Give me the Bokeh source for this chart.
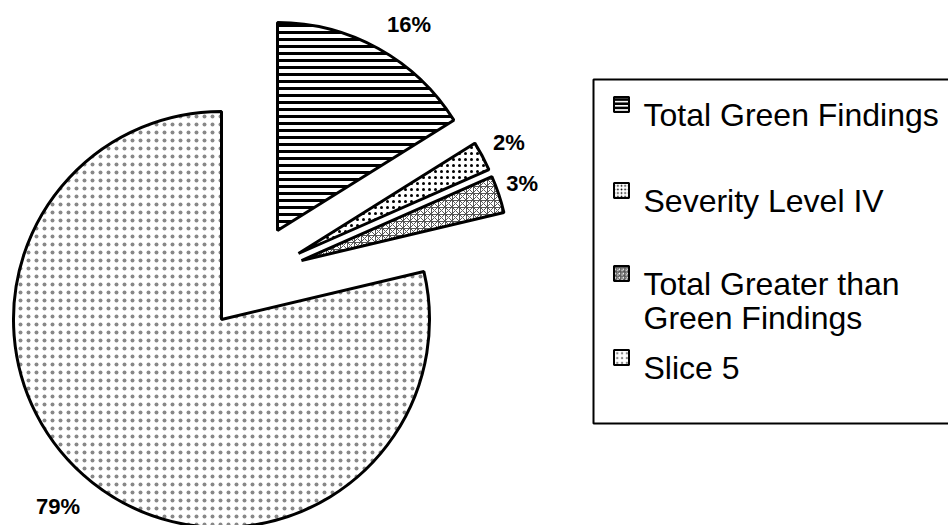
import math
import textwrap
from bokeh.plotting import figure
from bokeh.models import Range1d
from bokeh.core.properties import value
from bokeh.embed import file_html
from bokeh.resources import INLINE

# ---------------- data ----------------
categories = ["Total Green Findings", "Severity Level IV",
              "Total Greater than Green Findings", "Slice 5"]
values = [16.1, 2.3, 2.9, 78.7]
pct_labels = ["16%", "2%", "3%", "79%"]

# ---------------- layout / style ----------------
W, H = 948, 525
FONT = "Liberation Sans"
PIE_CENTER = (221, 319)          # screen px
RADIUS = 208
# explosion offsets (screen px) per slice
EXPLODE = [(56, -89), (77, -66), (80, -59), (0, 0)]
LABEL_GAP = [18, 12, 8, 20]
LABEL_FS = 22
hatches = [
    dict(hatch_pattern="horizontal_line", hatch_color="black", hatch_scale=7, hatch_weight=3),
    dict(hatch_pattern="dot", hatch_color="black", hatch_scale=6, hatch_weight=5),
    dict(hatch_pattern="criss_cross", hatch_color="#555555", hatch_scale=7, hatch_weight=1),
    dict(hatch_pattern="dot", hatch_color="#888888", hatch_scale=8, hatch_weight=1.6),
]


def sy(y):
    return H - y


def text_width(s, fs):
    w = {"%": 0.889}
    return sum(w.get(c, 0.556) for c in s) * fs


p = figure(width=W, height=H, output_backend="svg", toolbar_location=None,
           x_range=Range1d(0, W), y_range=Range1d(0, H),
           x_axis_type=None, y_axis_type=None, min_border=0,
           outline_line_color=None)
p.grid.visible = False
p.background_fill_color = "white"

total = sum(values)
cum = 0.0
lab_x, lab_y = [], []
for i, v in enumerate(values):
    span = v / total * 2 * math.pi
    start = math.pi / 2 - (cum + span)
    end = math.pi / 2 - cum
    cum += span
    cx = PIE_CENTER[0] + EXPLODE[i][0]
    cy = sy(PIE_CENTER[1] + EXPLODE[i][1])
    p.wedge(x=[cx], y=[cy], radius=RADIUS, start_angle=[start], end_angle=[end],
            fill_color="white", line_color="black", line_width=3, **hatches[i])
    mid = (start + end) / 2
    c, s = math.cos(mid), math.sin(mid)
    hw = text_width(pct_labels[i], LABEL_FS) / 2
    hh = 8
    lab_x.append(cx + (RADIUS + LABEL_GAP[i]) * c + hw * (1 if c >= 0 else -1))
    lab_y.append(cy + (RADIUS + LABEL_GAP[i]) * s + hh * (1 if s >= 0 else -1))

p.text(x=lab_x, y=lab_y, text=pct_labels, text_font=value(FONT),
       text_font_size=f"{LABEL_FS}px", text_font_style="bold", text_color="black",
       text_align="center", text_baseline="middle")

# ---------------- legend ----------------
LEG_LEFT, LEG_TOP, LEG_BOTTOM = 593, 79, 423
p.quad(left=[LEG_LEFT], right=[W + 10], top=[sy(LEG_TOP)], bottom=[sy(LEG_BOTTOM)],
       fill_color=None, line_color="black", line_width=2)

ITEM_BASELINES = [114, 200, 283, 367]
LINE_H = 34
ICON_X, ICON_SIZE, TEXT_X = 621, 15, 643
for i, name in enumerate(categories):
    lines = textwrap.wrap(name, 20)
    base = ITEM_BASELINES[i]
    icon_h = {k: (v if k != "hatch_scale" else max(3, v * 0.6)) for k, v in hatches[i].items()}
    if icon_h["hatch_pattern"] == "dot":
        icon_h["hatch_weight"] = min(icon_h["hatch_weight"], 3)
    p.rect(x=[ICON_X], y=[sy(base - 10)], width=ICON_SIZE, height=ICON_SIZE,
           fill_color="white", line_color="black", line_width=2, **icon_h)
    p.text(x=[TEXT_X] * len(lines), y=[sy(base + j * LINE_H) for j in range(len(lines))],
           text=lines, text_font=value(FONT), text_font_size="32px",
           text_color="black", text_align="left", text_baseline="alphabetic")

open("out.html", "w").write(file_html(p, INLINE))
